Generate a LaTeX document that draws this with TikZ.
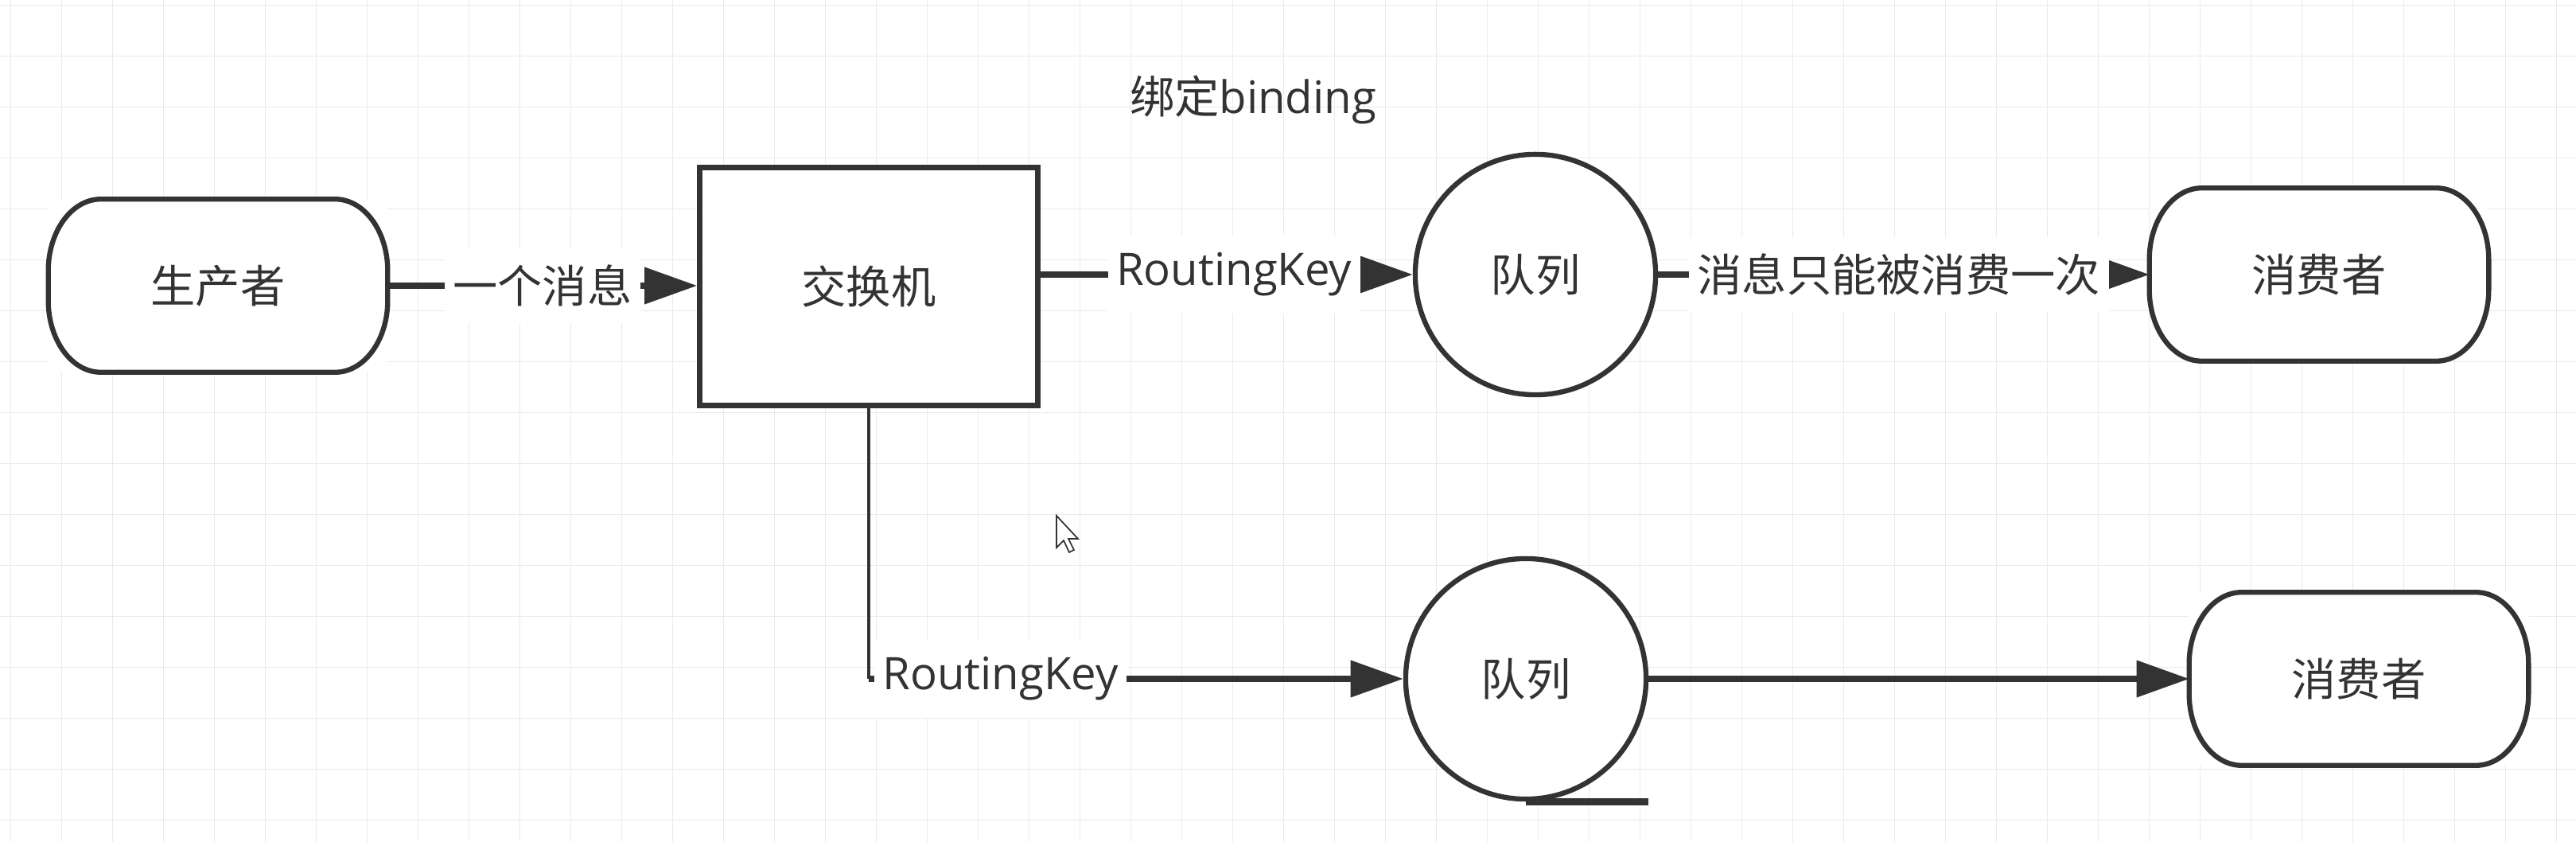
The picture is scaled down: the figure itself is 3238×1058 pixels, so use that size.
\documentclass[tikz,border=0pt]{standalone}
\usepackage{fontspec}
\setmainfont{Open Sans}
\newfontfamily\cjk{Noto Sans CJK SC}
\usetikzlibrary{arrows.meta}
\definecolor{ink}{HTML}{333333}
\definecolor{gridc}{HTML}{EAEAEA}
\tikzset{
  txt/.style={font=\fontsize{16}{19}\selectfont, text=ink},
  outline/.style={draw=ink, line width=1.8pt},
  termbox/.style={txt, minimum width=4.25cm, minimum height=2.16cm, inner sep=0pt, fill=white},
  exbox/.style={txt, outline, fill=white, minimum width=4.25cm, minimum height=2.99cm, inner sep=0pt},
  queue/.style={txt, outline, fill=white, circle, minimum size=3.02cm, inner sep=0pt},
  conn/.style={draw=ink, line width=2pt, -{Triangle[length=0.66cm,width=0.45cm]}},
  thinconn/.style={draw=ink, line width=1.3pt},
  lbl/.style={txt, fill=white, inner xsep=3pt, inner ysep=6pt},
  gridline/.style={draw=gridc, line width=0.45pt}
}
\newcommand\termnode[3]{%
  \node[termbox] (#1) at #2 {#3};
  \draw[outline] ([xshift=0.66cm]#1.north west) -- ([xshift=-0.66cm]#1.north east)
    arc[start angle=90,end angle=0,x radius=0.66cm,y radius=0.9cm]
    -- ([yshift=0.9cm]#1.south east)
    arc[start angle=0,end angle=-90,x radius=0.66cm,y radius=0.9cm]
    -- ([xshift=0.66cm]#1.south west)
    arc[start angle=270,end angle=180,x radius=0.66cm,y radius=0.9cm]
    -- ([yshift=-0.9cm]#1.north west)
    arc[start angle=180,end angle=90,x radius=0.66cm,y radius=0.9cm] -- cycle;
}
\begin{document}
\begin{tikzpicture}[x=0.01cm,y=0.01cm]
  \useasboundingbox (0,0) rectangle (3238,-1058);
  \fill[white] (0,0) rectangle (3238,-1058);
  % grid
  \foreach \i in {0,...,50} {
    \draw[gridline] ({13.4+64*\i},0) -- ({13.4+64*\i},-1058);
  }
  \foreach \j in {0,...,16} {
    \draw[gridline] (0,{-6.7-64*\j}) -- (3238,{-6.7-64*\j});
  }

  % nodes
  \termnode{prod}{(274,-359)}{\cjk 生产者}
  \node[exbox] (exch) at (1092,-360) {\cjk 交换机};
  \node[queue] (q1) at (1930,-345) {\cjk 队列};
  \termnode{cons1}{(2915,-345)}{\cjk 消费者}
  \node[queue] (q2) at (1918,-853) {\cjk 队列};
  \termnode{cons2}{(2965,-853)}{\cjk 消费者}
  \node[txt] (bind) at (1575,-125) {{\cjk 绑定}binding};

  % connectors
  \draw[conn] (prod.east) -- node[lbl, pos=0.5] {\cjk 一个消息} (exch.west |- prod.east);
  \draw[conn] (exch.east |- q1.west) -- node[lbl, pos=0.52] {RoutingKey} (q1.west);
  \draw[conn] (q1.east) -- node[lbl, pos=0.49] {\cjk 消息只能被消费一次} (cons1.west);
  \coordinate (bend) at (exch.south |- q2.west);
  \draw[thinconn] (exch.south) -- (bend);
  \draw[conn] (bend) -- node[lbl, pos=0, anchor=west, xshift=1pt] {RoutingKey} (q2.west);
  \draw[conn] (q2.east) -- (cons2.west);
  \draw[draw=ink, line width=2.6pt] (q2.south) -- (q2.south -| q2.east);

  % mouse cursor
  \draw[draw=ink, fill=white, line width=0.5pt]
    (1328,-648) -- (1328,-688) -- (1337,-679) -- (1344,-694) -- (1350,-691)
    -- (1343,-677) -- (1355,-677) -- cycle;
\end{tikzpicture}
\end{document}
